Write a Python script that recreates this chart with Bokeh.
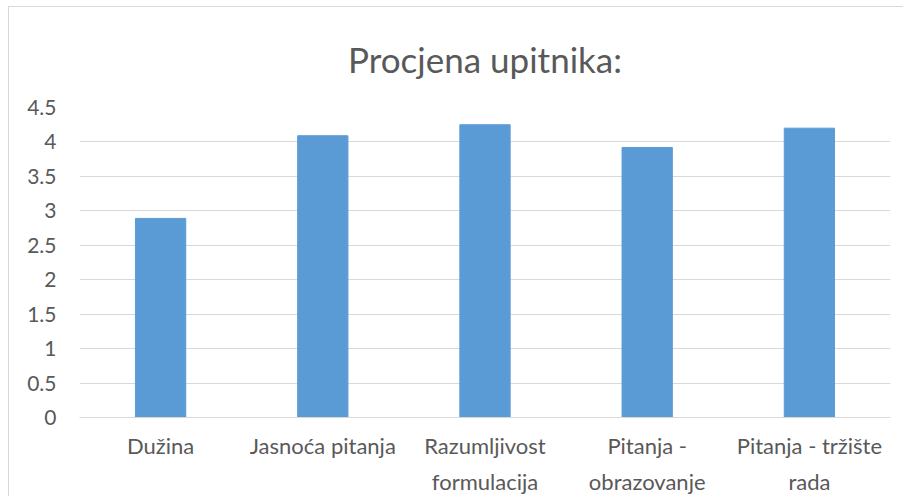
from bokeh.plotting import figure
from bokeh.models import (FixedTicker, ColumnDataSource, CategoricalAxis, Spacer,
                          CustomJSTickFormatter)
from bokeh.layouts import column, row
from bokeh.embed import file_html
from bokeh.resources import INLINE

categories = ["Dužina", "Jasnoća pitanja", "Razumljivost formulacija",
              "Pitanja - obrazovanje", "Pitanja - tržište rada"]
label_line1 = ["Dužina", "Jasnoća pitanja", "Razumljivost", "Pitanja -", "Pitanja - tržište"]
label_line2 = ["", "", "formulacija", "obrazovanje", "rada"]
values = [2.89, 4.09, 4.25, 3.92, 4.20]
y_ticks = [0, 0.5, 1, 1.5, 2, 2.5, 3, 3.5, 4, 4.5]
y_tick_labels = ["0", "0.5", "1", "1.5", "2", "2.5", "3", "3.5", "4", "4.5"]
title_text = "Procjena upitnika:"

FONT = "Lato"
TXT = "#595959"
GRID = "#D9D9D9"

src = ColumnDataSource(dict(cat=categories, val=values))

p = figure(width=895, height=490, x_range=categories, y_range=(0, 4.5),
           output_backend="svg", toolbar_location=None,
           min_border_left=70, min_border_right=14, min_border_top=100,
           min_border_bottom=80)
p.styles = {"border-left": "1px solid #D9D9D9", "border-top": "1px solid #D9D9D9"}
p.outline_line_color = None

p.vbar(x="cat", top="val", width=0.31, source=src, fill_color="#5B9BD5",
       line_color="#5B9BD5")

p.title.text = title_text
p.title.text_font = FONT
p.title.text_font_size = "35px"
p.title.text_font_style = "normal"
p.title.text_color = TXT
p.title.align = "center"
p.title.offset = 0
p.title.standoff = 56

p.yaxis.ticker = FixedTicker(ticks=y_ticks)
p.yaxis.major_label_overrides = {t: l for t, l in zip(y_ticks, y_tick_labels)}
p.yaxis.axis_line_color = None
p.yaxis.major_tick_line_color = None
p.yaxis.minor_tick_line_color = None
p.yaxis.major_tick_out = 0
p.yaxis.major_label_standoff = 23
p.yaxis.major_label_text_font = FONT
p.yaxis.major_label_text_font_size = "21px"
p.yaxis.major_label_text_color = TXT


def line_formatter(lines):
    return CustomJSTickFormatter(
        args=dict(cats=categories, lines=lines),
        code="const i = cats.indexOf(tick); return i >= 0 ? lines[i] : '';")


xa = p.xaxis[0]
xa.formatter = line_formatter(label_line1)
xa.axis_line_color = GRID
xa.axis_line_width = 1
xa.major_tick_line_color = None
xa.minor_tick_line_color = None
xa.major_tick_out = 0
xa.major_label_standoff = 14
xa.major_label_text_font = FONT
xa.major_label_text_font_size = "22px"
xa.major_label_text_color = TXT

xa2 = CategoricalAxis(formatter=line_formatter(label_line2))
xa2.axis_line_color = None
xa2.major_tick_line_color = None
xa2.minor_tick_line_color = None
xa2.major_tick_out = 0
xa2.major_tick_in = 0
xa2.major_label_standoff = 6
xa2.major_label_text_font = FONT
xa2.major_label_text_font_size = "22px"
xa2.major_label_text_color = TXT
p.add_layout(xa2, "below")

p.xgrid.grid_line_color = None
p.ygrid.grid_line_color = GRID
p.ygrid.grid_line_width = 1
p.ygrid.ticker = FixedTicker(ticks=y_ticks)

layout = column(Spacer(height=6), row(Spacer(width=8), p))

open("out.html", "w").write(file_html(layout, INLINE))
